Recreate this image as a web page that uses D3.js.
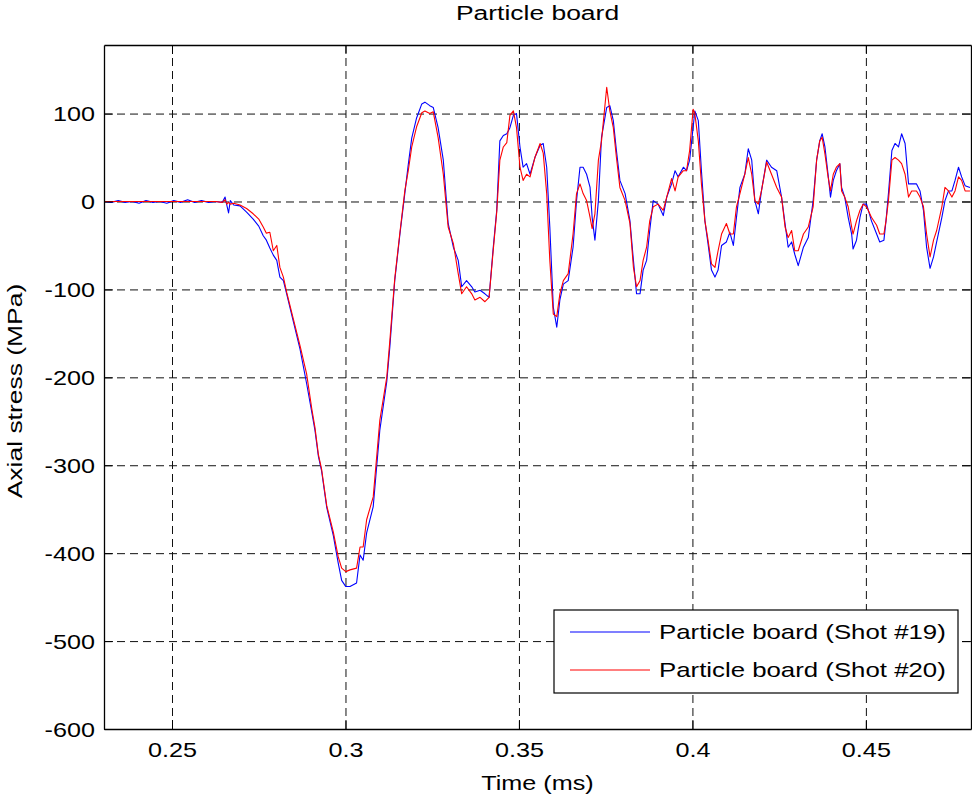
<!DOCTYPE html>
<html>
<head>
<meta charset="utf-8">
<script src="https://cdn.jsdelivr.net/npm/d3@7"></script>
<style>
  body { margin: 0; background: #fff; }
  svg { display: block; }
  text { font-family: "Liberation Sans", Arial, sans-serif; fill: #000; }
</style>
</head>
<body>
<svg id="chart"></svg>
<script>
// time (ms) and stress (MPa)
const time = [
  0.2304, 0.2325, 0.2345, 0.2365, 0.2385, 0.2405, 0.2425, 0.2445, 0.2465, 0.2485,
  0.2505, 0.2525, 0.2545, 0.2565, 0.2585, 0.2605, 0.2625, 0.2645, 0.2653, 0.2658,
  0.2663, 0.2668, 0.2678, 0.2696, 0.2715, 0.2734, 0.2750, 0.2763, 0.2772, 0.2782,
  0.2792, 0.2802, 0.2811, 0.2821, 0.2831, 0.2850, 0.2869, 0.2888, 0.2903, 0.2912,
  0.2922, 0.2931, 0.2946, 0.2965, 0.2979, 0.2989, 0.3001, 0.3013, 0.3032, 0.3042,
  0.3051, 0.3061, 0.3080, 0.3099, 0.3119, 0.3128, 0.3142, 0.3157, 0.3171, 0.3181,
  0.3191, 0.3205, 0.3220, 0.3229, 0.3243, 0.3253, 0.3267, 0.3282, 0.3296, 0.3311,
  0.3325, 0.3335, 0.3349, 0.3364, 0.3373, 0.3388, 0.3402, 0.3414, 0.3426, 0.3436,
  0.3445, 0.3455, 0.3465, 0.3474, 0.3484, 0.3493, 0.3503, 0.3512, 0.3522, 0.3532,
  0.3546, 0.3561, 0.3570, 0.3580, 0.3589, 0.3599, 0.3609, 0.3618, 0.3628, 0.3642,
  0.3656, 0.3666, 0.3676, 0.3685, 0.3695, 0.3705, 0.3711, 0.3719, 0.3729, 0.3738,
  0.3753, 0.3762, 0.3772, 0.3781, 0.3791, 0.3806, 0.3820, 0.3830, 0.3839, 0.3849,
  0.3858, 0.3868, 0.3877, 0.3887, 0.3901, 0.3916, 0.3926, 0.3940, 0.3950, 0.3959,
  0.3974, 0.3983, 0.3992, 0.4002, 0.4007, 0.4017, 0.4026, 0.4036, 0.4045, 0.4055,
  0.4065, 0.4074, 0.4084, 0.4098, 0.4108, 0.4118, 0.4127, 0.4137, 0.4151, 0.4161,
  0.4171, 0.4180, 0.4190, 0.4199, 0.4214, 0.4228, 0.4243, 0.4257, 0.4267, 0.4276,
  0.4286, 0.4295, 0.4305, 0.4320, 0.4334, 0.4348, 0.4358, 0.4367, 0.4374, 0.4382,
  0.4391, 0.4398, 0.4406, 0.4415, 0.4425, 0.4430, 0.4439, 0.4449, 0.4459, 0.4463,
  0.4473, 0.4483, 0.4492, 0.4502, 0.4516, 0.4531, 0.4540, 0.4552, 0.4558, 0.4565,
  0.4575, 0.4584, 0.4594, 0.4603, 0.4613, 0.4623, 0.4632, 0.4646, 0.4656, 0.4666,
  0.4675, 0.4685, 0.4695, 0.4704, 0.4719, 0.4728, 0.4738, 0.4748, 0.4757, 0.4767,
  0.4776, 0.4786, 0.4800
];

const shot19 = [
  0, -1, 1, -1, 0, -2, 1, -1, 0, -2,
  1, -1, 2, -1, 1, -1, 0, -1, 5, -4,
  -13, 1, -4, -5, -12, -20, -28, -39, -44, -53,
  -61, -67, -86, -90, -106, -137, -168, -207, -240, -260,
  -290, -306, -348, -380, -411, -431, -438, -438, -434, -402,
  -408, -377, -347, -260, -205, -165, -90, -37, 9, 42,
  72, 95, 111, 113, 109, 107, 84, 47, -25, -52,
  -67, -97, -90, -97, -103, -101, -105, -109, -52, -10,
  69, 75, 77, 84, 98, 100, 62, 39, 43, 31,
  50, 64, 66, 39, -29, -120, -143, -112, -94, -90,
  -52, 1, 39, 39, 31, 16, -18, -44, 1, 73,
  107, 109, 92, 58, 24, 9, -22, -67, -105, -105,
  -78, -67, -33, 1, -3, -16, 5, 20, 35, 28,
  39, 35, 47, 84, 103, 92, 35, -22, -48, -78,
  -86, -78, -50, -46, -35, -50, -18, 16, 31, 60,
  47, 1, -14, 12, 47, 39, 35, 5, -25, -52,
  -46, -60, -73, -52, -41, 1, 47, 69, 77, 62,
  31, 5, 24, 35, 43, 16, 5, -18, -37, -54,
  -44, -18, -3, -3, -22, -37, -46, -44, -22, 9,
  58, 66, 62, 77, 66, 20, 20, 20, 12, -10,
  -52, -76, -63, -46, -18, 1, 12, 12, 24, 39,
  28, 18, 16
];

const shot20 = [
  0, 0, 0, 0, 0, 0, 0, 0, 0, 0,
  0, 0, 0, 0, 0, 0, 0, -1, 2, -3,
  -1, -3, -2, -4, -8, -14, -20, -29, -36, -35,
  -56, -50, -75, -86, -104, -134, -164, -196, -236, -257,
  -288, -304, -346, -376, -404, -417, -421, -419, -417, -393,
  -393, -362, -336, -249, -200, -158, -88, -35, 12, 35,
  62, 85, 101, 103, 100, 102, 73, 31, -29, -48,
  -82, -105, -97, -105, -112, -109, -114, -109, -55, -12,
  47, 62, 67, 98, 103, 84, 39, 24, 31, 28,
  50, 66, 55, 9, -67, -128, -131, -105, -90, -82,
  -37, 9, 20, 9, 1, -18, -31, -14, 47, 69,
  130, 103, 84, 50, 16, 1, -25, -75, -97, -90,
  -67, -52, -22, -6, -3, -10, 5, 26, 12, 28,
  35, 35, 58, 105, 100, 69, 20, -22, -44, -71,
  -75, -56, -37, -25, -37, -37, -6, 9, 31, 50,
  31, 1, -3, 12, 45, 31, 16, 5, -29, -41,
  -33, -56, -56, -37, -29, -6, 47, 69, 73, 54,
  28, 12, 31, 39, 43, 12, 5, -6, -29, -37,
  -22, -10, -3, -6, -18, -27, -37, -37, -22, 1,
  47, 50, 47, 43, 31, 5, 12, 12, 5, -6,
  -37, -63, -44, -33, -6, 16, 12, 5, 12, 28,
  24, 12, 12
];

const seriesNames = ["Particle board (Shot #19)", "Particle board (Shot #20)"];
const seriesColors = ["#0000ff", "#ff0000"];
const xTicks = [0.25, 0.3, 0.35, 0.4, 0.45];
const xTickLabels = ["0.25", "0.3", "0.35", "0.4", "0.45"];
const yTicks = [-600, -500, -400, -300, -200, -100, 0, 100];
const yTickLabels = ["-600", "-500", "-400", "-300", "-200", "-100", "0", "100"];
const xDomain = [0.2304, 0.4803];
const yDomain = [-600, 178];

const W = 972, H = 798;
const margin = { top: 45, right: 1, bottom: 69, left: 104 },
      width = W - margin.left - margin.right,
      height = H - margin.top - margin.bottom;
const stretch = 1.26; // the original font is set wide

const root = d3.select("#chart").attr("width", W).attr("height", H);
const svg = root.append("g").attr("transform", `translate(${margin.left},${margin.top})`);

const x = d3.scaleLinear().domain(xDomain).range([0, width]);
const y = d3.scaleLinear().domain(yDomain).range([height, 0]);

// dashed grid
svg.append("g")
  .attr("transform", `translate(0,${height})`)
  .call(d3.axisBottom(x).tickValues(xTicks).tickSize(-height).tickFormat(""))
  .call(g => g.select(".domain").remove())
  .selectAll("line")
  .attr("stroke", "#111").attr("stroke-dasharray", "8,5");

svg.append("g")
  .call(d3.axisLeft(y).tickValues(yTicks.filter(v => v > yDomain[0])).tickSize(-width).tickFormat(""))
  .call(g => g.select(".domain").remove())
  .selectAll("line")
  .attr("stroke", "#111").attr("stroke-dasharray", "8,5");

// curves
svg.append("clipPath").attr("id", "clip")
  .append("rect").attr("width", width).attr("height", height);

const line = d3.line().x((d, i) => x(time[i])).y(d => y(d));
[shot19, shot20].forEach((s, k) => {
  svg.append("path")
    .datum(s)
    .attr("clip-path", "url(#clip)")
    .attr("fill", "none")
    .attr("stroke", seriesColors[k])
    .attr("stroke-width", 1.1)
    .attr("stroke-linejoin", "round")
    .attr("d", line);
});

// axes, ticks pointing inward on all four sides
const tick = 9;
const xAxis = svg.append("g")
  .attr("transform", `translate(0,${height})`)
  .call(d3.axisBottom(x).tickValues(xTicks).tickSizeInner(-tick).tickSizeOuter(0)
    .tickPadding(14).tickFormat((d, i) => xTickLabels[i]));
xAxis.selectAll("text")
  .attr("font-size", 20)
  .attr("transform", `scale(${stretch},1)`);

const yAxis = svg.append("g")
  .call(d3.axisLeft(y).tickValues(yTicks).tickSizeInner(-tick).tickSizeOuter(0)
    .tickFormat((d, i) => yTickLabels[i]));
yAxis.selectAll("text")
  .attr("font-size", 20)
  .attr("x", -9 / stretch)
  .attr("dy", "0.35em")
  .attr("transform", `scale(${stretch},1)`);

svg.append("g")
  .call(d3.axisTop(x).tickValues(xTicks).tickSizeInner(-tick).tickSizeOuter(0).tickFormat(""));
svg.append("g")
  .attr("transform", `translate(${width},0)`)
  .call(d3.axisRight(y).tickValues(yTicks).tickSizeInner(-tick).tickSizeOuter(0).tickFormat(""));

svg.selectAll(".domain").attr("stroke", "#000").attr("stroke-width", 1.3);
svg.selectAll(".tick line").filter(function () { return !this.getAttribute("stroke-dasharray"); })
  .attr("stroke", "#000");

// titles
svg.append("text")
  .attr("transform", `translate(${width / 2},-25) scale(${stretch},1)`)
  .attr("text-anchor", "middle")
  .attr("font-size", 21)
  .text("Particle board");

svg.append("text")
  .attr("transform", `translate(${width / 2},${height + 61}) scale(${stretch},1)`)
  .attr("text-anchor", "middle")
  .attr("font-size", 20)
  .text("Time (ms)");

svg.append("text")
  .attr("transform", `translate(${-82},${height / 2 + 4}) rotate(-90) scale(${stretch},1)`)
  .attr("text-anchor", "middle")
  .attr("font-size", 21)
  .text("Axial stress (MPa)");

// legend
const lg = svg.append("g").attr("transform", `translate(${554 - margin.left},${610 - margin.top})`);
lg.append("rect")
  .attr("width", 404).attr("height", 83)
  .attr("fill", "#fff").attr("stroke", "#000").attr("stroke-width", 1.2);
seriesNames.forEach((name, i) => {
  const cy = 22 + i * 38;
  lg.append("line")
    .attr("x1", 16).attr("x2", 96).attr("y1", cy).attr("y2", cy)
    .attr("stroke", seriesColors[i]).attr("stroke-width", 1.1);
  lg.append("text")
    .attr("transform", `translate(105,${cy + 7}) scale(1.29,1)`)
    .attr("font-size", 20)
    .text(name);
});
</script>
</body>
</html>
